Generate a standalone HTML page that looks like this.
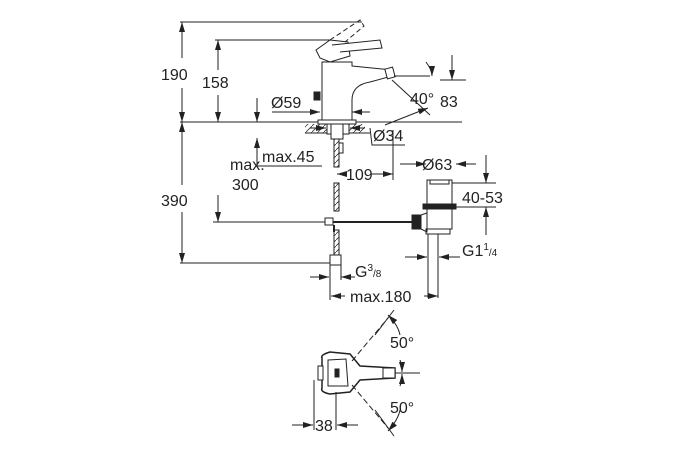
<!DOCTYPE html>
<html><head><meta charset="utf-8"><style>
html,body{margin:0;padding:0;background:#fff}
svg{display:block}
text{font-family:"Liberation Sans",sans-serif;font-size:16px;fill:#222}
</style></head><body>
<svg width="675" height="450" viewBox="0 0 675 450" xmlns="http://www.w3.org/2000/svg">
<defs>
<marker id="a" viewBox="0 0 10 6" refX="10" refY="3" markerWidth="10" markerHeight="6" orient="auto-start-reverse" markerUnits="userSpaceOnUse"><path d="M0,0L10,3L0,6z" fill="#222"/></marker>
<pattern id="h" width="6" height="6" patternUnits="userSpaceOnUse"><path d="M0,6L6,0" stroke="#333" stroke-width="0.8"/></pattern>
</defs>
<g stroke="#222" stroke-width="1" fill="none">
<line x1="180" y1="22" x2="362" y2="22"/>
<line x1="182" y1="22" x2="182" y2="58" marker-start="url(#a)"/>
<line x1="182" y1="88" x2="182" y2="122" marker-end="url(#a)"/>
<line x1="215" y1="40" x2="330" y2="40"/>
<line x1="218" y1="40" x2="218" y2="70" marker-start="url(#a)"/>
<line x1="218" y1="95" x2="218" y2="122" marker-end="url(#a)"/>
<line x1="180" y1="122" x2="462" y2="122"/>
<line x1="182" y1="122" x2="182" y2="185" marker-start="url(#a)"/>
<line x1="182" y1="212" x2="182" y2="263" marker-end="url(#a)"/>
<line x1="180" y1="263" x2="336" y2="263"/>
<line x1="218" y1="195" x2="218" y2="222" marker-end="url(#a)"/>
<line x1="213" y1="222" x2="325" y2="222"/>
<line x1="257" y1="166" x2="257" y2="138" marker-end="url(#a)"/>
<line x1="257" y1="166" x2="322" y2="166"/>
<line x1="257" y1="98" x2="257" y2="122" marker-end="url(#a)"/>
<line x1="272" y1="112" x2="320" y2="112" marker-end="url(#a)"/>
<line x1="370" y1="112" x2="352" y2="112" marker-end="url(#a)"/>
<rect x="322" y="62" width="30" height="58" fill="#fff"/>
<path d="M322,120 L352,120 L352,100 Q352,85 370,82 L392,76 L392,70 L352,66" fill="#fff"/>
<rect x="318" y="120" width="38" height="4" fill="#fff"/>
<path d="M316,50 L330,40 L348,42 L350,56 L330,62 L320,58Z" fill="#fff"/>
<path d="M332,45 L380,40 L382,48 L340,52" fill="#fff"/>
<path d="M330,40 L360,20 L364,26 L345,42" stroke-dasharray="5,3"/>
<rect x="314" y="92" width="6" height="8" fill="#222"/>
<rect x="386" y="68" width="8" height="10" transform="rotate(-15 390 73)" fill="#fff"/>
<line x1="394" y1="76" x2="430" y2="76"/>
<line x1="392" y1="80" x2="430" y2="115"/>
<path d="M385,125 Q410,115 428,108" marker-end="url(#a)"/>
<path d="M426,62 Q432,70 432,76" marker-end="url(#a)"/>
<line x1="440" y1="80" x2="466" y2="80"/>
<line x1="452" y1="55" x2="452" y2="80" marker-end="url(#a)"/>
<rect x="305" y="124" width="60" height="9" fill="url(#h)" stroke="none"/>
<line x1="305" y1="133" x2="370" y2="133"/>
<rect x="327" y="124" width="22" height="10" fill="#fff"/>
<rect x="331" y="124" width="12" height="15" fill="#fff"/>
<line x1="310" y1="128" x2="326" y2="128" marker-end="url(#a)"/>
<line x1="365" y1="128" x2="350" y2="128" marker-end="url(#a)"/>
<path d="M370,128 L372,145 L405,145"/>
<rect x="334" y="139" width="5" height="28" fill="url(#h)"/>
<rect x="339" y="143" width="4" height="10" fill="#fff"/>
<rect x="334" y="183" width="5" height="28" fill="url(#h)"/>
<rect x="334" y="230" width="5" height="25" fill="url(#h)"/>
<rect x="330" y="255" width="11" height="10" fill="#fff"/>
<rect x="325" y="218" width="8" height="7" fill="#fff"/>
<line x1="334" y1="225" x2="334" y2="232" stroke-width="2"/>
<line x1="333" y1="222" x2="415" y2="222" stroke-width="2"/>
<line x1="393" y1="130" x2="393" y2="180"/>
<line x1="345" y1="174" x2="337" y2="174" marker-end="url(#a)"/>
<line x1="372" y1="174" x2="393" y2="174" marker-end="url(#a)"/>
<rect x="427" y="180" width="25" height="25" fill="#fff"/>
<rect x="430" y="180" width="19" height="4" fill="#fff"/>
<rect x="423" y="204" width="33" height="5" fill="#222"/>
<rect x="427" y="209" width="25" height="20" fill="#fff"/>
<rect x="426" y="229" width="24" height="5" fill="#fff"/>
<rect x="412" y="215" width="9" height="14" fill="#222"/>
<path d="M421,215 L427,213 L427,232 L421,229"/>
<line x1="428" y1="234" x2="428" y2="298"/>
<line x1="438" y1="234" x2="438" y2="298"/>
<line x1="400" y1="164" x2="426" y2="164" marker-end="url(#a)"/>
<line x1="476" y1="164" x2="456" y2="164" marker-end="url(#a)"/>
<line x1="452" y1="183" x2="496" y2="183"/>
<line x1="456" y1="207" x2="496" y2="207"/>
<line x1="486" y1="155" x2="486" y2="183" marker-end="url(#a)"/>
<line x1="486" y1="207" x2="486" y2="235" marker-start="url(#a)"/>
<line x1="405" y1="257" x2="427" y2="257" marker-end="url(#a)"/>
<line x1="460" y1="257" x2="439" y2="257" marker-end="url(#a)"/>
<line x1="330" y1="265" x2="330" y2="300"/>
<line x1="310" y1="277" x2="329" y2="277" marker-end="url(#a)"/>
<line x1="355" y1="277" x2="341" y2="277" marker-end="url(#a)"/>
<line x1="341" y1="265" x2="341" y2="280"/>
<line x1="345" y1="296" x2="331" y2="296" marker-end="url(#a)"/>
<line x1="424" y1="296" x2="438" y2="296" marker-end="url(#a)"/>
<path d="M322,358 Q320,355 330,352 L350,354 L360,366 L395,368 L395,378 L360,380 L350,392 L330,394 Q320,392 322,388Z" fill="#fff" stroke-width="1.5"/>
<path d="M328,360 L346,359 L348,386 L328,386Z"/>
<rect x="318" y="366" width="5" height="14" fill="#fff"/>
<rect x="335" y="369" width="4" height="8" fill="#222"/>
<rect x="383" y="368" width="12" height="10" fill="#fff"/>
<line x1="352" y1="361" x2="388" y2="318" stroke-dasharray="6,3"/>
<line x1="352" y1="385" x2="388" y2="428" stroke-dasharray="6,3"/>
<line x1="375" y1="335" x2="394" y2="310"/>
<line x1="375" y1="410" x2="394" y2="436"/>
<path d="M388,315 Q398,325 400,335" marker-start="url(#a)"/>
<path d="M400,360 Q402,366 402,372" marker-end="url(#a)"/>
<path d="M400,386 Q402,380 402,374" marker-end="url(#a)"/>
<path d="M400,410 Q398,420 388,431" marker-end="url(#a)"/>
<line x1="395" y1="373" x2="420" y2="373"/>
<line x1="314" y1="380" x2="314" y2="430"/>
<line x1="336" y1="392" x2="336" y2="430"/>
<line x1="292" y1="425" x2="313" y2="425" marker-end="url(#a)"/>
<line x1="358" y1="425" x2="337" y2="425" marker-end="url(#a)"/>
</g>
<text x="161" y="80">190</text>
<text x="202" y="88">158</text>
<text x="271" y="108">Ø59</text>
<text x="410" y="104">40°</text>
<text x="440" y="107">83</text>
<text x="373" y="141">Ø34</text>
<text x="262" y="162">max.45</text>
<text x="230" y="170">max.</text>
<text x="232" y="190">300</text>
<text x="161" y="206">390</text>
<text x="346" y="180">109</text>
<text x="422" y="170">Ø63</text>
<text x="462" y="203">40-53</text>
<text x="462" y="256">G1<tspan font-size="10" dy="-6">1</tspan><tspan font-size="10" dy="6">/4</tspan></text>
<text x="355" y="277">G<tspan font-size="10" dy="-6">3</tspan><tspan font-size="10" dy="6">/8</tspan></text>
<text x="350" y="302">max.180</text>
<text x="390" y="348">50°</text>
<text x="390" y="413">50°</text>
<text x="315" y="431">38</text>
</svg>
</body></html>
